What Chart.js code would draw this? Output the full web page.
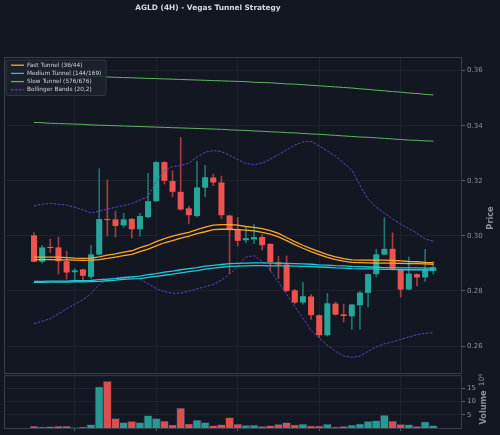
<!DOCTYPE html>
<html>
<head>
<meta charset="utf-8">
<script src="https://cdn.jsdelivr.net/npm/chart.js@4.4.0/dist/chart.umd.min.js"></script>
<style>
html, body { margin: 0; padding: 0; background: #131722; }
#wrap { position: relative; width: 500px; height: 435px; overflow: hidden; }
canvas { position: absolute; left: 0; }
#priceChart { top: 0; }
#volumeChart { top: 370px; }
</style>
</head>
<body>
<div id="wrap">
  <canvas id="priceChart" width="500" height="435" style="width:500px;height:435px"></canvas>
  <canvas id="volumeChart" width="500" height="65" style="width:500px;height:65px"></canvas>
</div>
<script>
// AGLD 4H candles (50 bars)
var opens  = [0.3002,0.2906,0.2960,0.2958,0.2908,0.2868,0.2878,0.2851,0.2932,0.3061,0.3060,0.3038,0.3062,0.3024,0.3068,0.3126,0.3268,0.3199,0.3160,0.3100,0.3072,0.3175,0.3212,0.3194,0.3074,0.3021,0.2984,0.2987,0.2996,0.2971,0.2904,0.2896,0.2802,0.2758,0.2780,0.2712,0.2639,0.2754,0.2715,0.2708,0.2748,0.2793,0.2861,0.2932,0.2953,0.2879,0.2805,0.2861,0.2849,0.2873];
var highs  = [0.3012,0.2966,0.2988,0.2996,0.2944,0.2882,0.2879,0.2966,0.3244,0.3203,0.3090,0.3082,0.3063,0.3082,0.3227,0.3270,0.3270,0.3236,0.3358,0.3108,0.3272,0.3256,0.3224,0.3217,0.3076,0.3067,0.3033,0.3042,0.3005,0.2972,0.2926,0.2927,0.2806,0.2831,0.2787,0.2713,0.2791,0.2760,0.2752,0.2752,0.2799,0.2862,0.2951,0.3066,0.3011,0.2880,0.2923,0.2862,0.2951,0.2906];
var lows   = [0.2905,0.2902,0.2940,0.2861,0.2843,0.2833,0.2836,0.2845,0.2930,0.2999,0.2996,0.3031,0.2991,0.2999,0.3066,0.3124,0.3188,0.3142,0.3093,0.3045,0.3069,0.3142,0.3182,0.3062,0.2863,0.2963,0.2975,0.2972,0.2948,0.2873,0.2845,0.2798,0.2754,0.2752,0.2697,0.2631,0.2636,0.2712,0.2687,0.2661,0.2661,0.2742,0.2851,0.2931,0.2875,0.2778,0.2804,0.2818,0.2835,0.2861];
var closes = [0.2906,0.2958,0.2956,0.2908,0.2867,0.2875,0.2855,0.2933,0.3061,0.3057,0.3036,0.3060,0.3024,0.3072,0.3126,0.3268,0.3200,0.3160,0.3096,0.3075,0.3176,0.3213,0.3194,0.3075,0.3021,0.2982,0.2992,0.2996,0.2966,0.2904,0.2896,0.2800,0.2758,0.2781,0.2712,0.2639,0.2755,0.2714,0.2709,0.2751,0.2794,0.2861,0.2933,0.2953,0.2879,0.2805,0.2863,0.2849,0.2878,0.2886];
// volume in millions
var volumes = [0.7,0.3,0.5,0.7,0.7,0.1,0.4,1.3,15.5,17.6,3.6,2.1,2.5,2.1,4.7,3.6,2.6,1.2,7.5,1.6,3.0,2.1,0.9,1.3,3.9,1.5,1.0,1.1,0.6,0.9,1.4,2.1,1.2,1.5,0.8,0.8,1.5,0.4,0.6,1.1,1.6,2.5,2.8,4.8,2.6,1.4,1.3,0.6,2.3,0.9];

// Vegas tunnels
var fast36  = [0.2923,0.2923,0.2923,0.2923,0.2921,0.2919,0.2918,0.2919,0.2924,0.2930,0.2935,0.2941,0.2946,0.2957,0.2966,0.2979,0.2990,0.2999,0.3006,0.3013,0.3023,0.3032,0.3039,0.3041,0.3041,0.3039,0.3034,0.3031,0.3026,0.3019,0.3009,0.2994,0.2979,0.2966,0.2954,0.2943,0.2932,0.2924,0.2917,0.2913,0.2912,0.2912,0.2912,0.2912,0.2911,0.2909,0.2907,0.2906,0.2904,0.2903];
var fast44  = [0.2914,0.2914,0.2914,0.2913,0.2913,0.2912,0.2911,0.2912,0.2914,0.2918,0.2923,0.2928,0.2933,0.2943,0.2952,0.2964,0.2975,0.2983,0.2992,0.2999,0.3008,0.3015,0.3023,0.3024,0.3024,0.3023,0.3021,0.3018,0.3013,0.3006,0.2996,0.2983,0.2968,0.2955,0.2943,0.2932,0.2922,0.2914,0.2908,0.2904,0.2903,0.2902,0.2901,0.2901,0.2901,0.2900,0.2899,0.2899,0.2898,0.2897];
var med144  = [0.2835,0.2835,0.2836,0.2836,0.2836,0.2837,0.2837,0.2838,0.2841,0.2843,0.2845,0.2848,0.2851,0.2854,0.2859,0.2863,0.2868,0.2872,0.2877,0.2881,0.2885,0.2890,0.2893,0.2896,0.2899,0.2900,0.2901,0.2902,0.2902,0.2901,0.2901,0.2900,0.2899,0.2898,0.2897,0.2895,0.2894,0.2892,0.2891,0.2889,0.2888,0.2887,0.2886,0.2885,0.2885,0.2884,0.2884,0.2884,0.2883,0.2883];
var med169  = [0.2831,0.2831,0.2832,0.2832,0.2832,0.2833,0.2833,0.2834,0.2835,0.2837,0.2839,0.2842,0.2844,0.2845,0.2849,0.2853,0.2857,0.2861,0.2866,0.2870,0.2874,0.2879,0.2883,0.2886,0.2889,0.2890,0.2891,0.2892,0.2892,0.2891,0.2891,0.2891,0.2890,0.2889,0.2888,0.2887,0.2886,0.2884,0.2883,0.2881,0.2880,0.2880,0.2879,0.2878,0.2878,0.2877,0.2877,0.2877,0.2876,0.2876];
var slow576 = [0.3590,0.3588,0.3587,0.3585,0.3584,0.3583,0.3581,0.3580,0.3579,0.3577,0.3576,0.3575,0.3574,0.3573,0.3572,0.3571,0.3570,0.3569,0.3568,0.3567,0.3566,0.3565,0.3564,0.3563,0.3562,0.3561,0.3560,0.3558,0.3557,0.3556,0.3554,0.3552,0.3551,0.3549,0.3547,0.3545,0.3543,0.3541,0.3539,0.3537,0.3534,0.3532,0.3529,0.3527,0.3524,0.3522,0.3519,0.3517,0.3514,0.3512];
var slow676 = [0.3412,0.3411,0.3409,0.3408,0.3407,0.3406,0.3405,0.3403,0.3402,0.3401,0.3400,0.3399,0.3398,0.3397,0.3396,0.3395,0.3394,0.3393,0.3392,0.3391,0.3390,0.3389,0.3388,0.3387,0.3385,0.3384,0.3383,0.3381,0.3380,0.3378,0.3377,0.3375,0.3374,0.3372,0.3370,0.3369,0.3367,0.3365,0.3363,0.3361,0.3359,0.3358,0.3356,0.3354,0.3352,0.3350,0.3348,0.3347,0.3345,0.3344];

// Bollinger Bands (20,2)
var bbUpper = [0.3109,0.3115,0.3118,0.3115,0.3112,0.3104,0.3095,0.3083,0.3090,0.3097,0.3104,0.3110,0.3117,0.3130,0.3143,0.3199,0.3239,0.3252,0.3255,0.3264,0.3286,0.3304,0.3310,0.3306,0.3293,0.3277,0.3263,0.3259,0.3264,0.3279,0.3295,0.3313,0.3330,0.3341,0.3343,0.3326,0.3308,0.3290,0.3264,0.3239,0.3184,0.3133,0.3104,0.3083,0.3061,0.3043,0.3026,0.3010,0.2988,0.2981];
var bbLower = [0.2681,0.2690,0.2699,0.2717,0.2735,0.2752,0.2768,0.2790,0.2824,0.2841,0.2848,0.2851,0.2851,0.2843,0.2826,0.2808,0.2797,0.2792,0.2792,0.2799,0.2808,0.2815,0.2824,0.2839,0.2861,0.2890,0.2923,0.2928,0.2908,0.2875,0.2832,0.2788,0.2744,0.2701,0.2657,0.2628,0.2603,0.2581,0.2564,0.2559,0.2563,0.2581,0.2597,0.2608,0.2615,0.2624,0.2633,0.2641,0.2646,0.2648];

var priceTicks = [0.26, 0.28, 0.30, 0.32, 0.34, 0.36];
var volumeTicks = [5, 10, 15];

var legendLabels = ['Fast Tunnel (36/44)', 'Medium Tunnel (144/169)', 'Slow Tunnel (576/676)', 'Bollinger Bands (20,2)'];

var UP = '#26a69a', DOWN = '#ef5350';
var ORANGE = '#ffa726', CYAN = '#26c6da', GREEN = '#5cb860', PURPLE = '#6441c4';
var GRID = '#1d222d', TICKMARK = '#5d616c', LABEL = '#8b8f99', BORDER = '#3a3e4a';
var X_MIN = -3.56, X_MAX = 52.4;

Chart.defaults.font.family = 'DejaVu Sans';

var isUp = opens.map(function (o, i) { return closes[i] >= o; });

function pts(arr) {
    return arr.map(function (v, i) { return {x: i, y: v}; });
}

function lineSet(label, data, color, width, dash) {
    return {
        type: 'line',
        label: label,
        data: pts(data),
        borderColor: color,
        borderWidth: width,
        borderDash: dash || [],
        pointRadius: 0,
        tension: 0,
        fill: false,
        order: 0
    };
}

var panelBorder = {
    id: 'panelBorder',
    afterDraw: function (chart) {
        var ca = chart.chartArea, ctx = chart.ctx;
        ctx.save();
        ctx.strokeStyle = BORDER;
        ctx.lineWidth = 1;
        ctx.strokeRect(ca.left - 0.5, ca.top - 0.5, ca.right - ca.left + 1, ca.bottom - ca.top + 1);
        ctx.restore();
    }
};

var decorations = {
    id: 'decorations',
    afterDraw: function (chart) {
        var ca = chart.chartArea, ctx = chart.ctx;
        ctx.save();
        // title
        ctx.fillStyle = '#d6d8de';
        ctx.font = 'bold 7.4px "DejaVu Sans"';
        ctx.textAlign = 'center';
        ctx.textBaseline = 'middle';
        ctx.fillText('AGLD (4H) - Vegas Tunnel Strategy', 208, 8.5);

        // axis labels
        ctx.fillStyle = '#8f939c';
        ctx.font = 'bold 8.2px "DejaVu Sans"';
        ctx.save();
        ctx.translate(490.5, 218);
        ctx.rotate(-Math.PI / 2);
        ctx.fillText('Price', 0, 0);
        ctx.restore();
        ctx.save();
        ctx.translate(483.5, 407.5);
        ctx.rotate(-Math.PI / 2);
        ctx.fillText('Volume', 0, 0);
        ctx.restore();
        ctx.save();
        ctx.font = '7.4px "DejaVu Sans"';
        ctx.translate(482.5, 380);
        ctx.rotate(-Math.PI / 2);
        ctx.fillText('10\u2076', 0, 0);
        ctx.restore();

        // legend box
        var x0 = ca.left + 1, y0 = ca.top + 2, w = 100, h = 35.5;
        ctx.fillStyle = 'rgba(30,34,45,0.85)';
        ctx.strokeStyle = '#3a3e4a';
        ctx.lineWidth = 0.8;
        ctx.beginPath();
        ctx.roundRect(x0, y0, w, h, 2);
        ctx.fill();
        ctx.stroke();
        var colors = [ORANGE, CYAN, GREEN, PURPLE];
        ctx.font = '5.8px "DejaVu Sans"';
        ctx.textAlign = 'left';
        ctx.textBaseline = 'middle';
        legendLabels.forEach(function (txt, k) {
            var y = y0 + 5.2 + 8.2 * k;
            ctx.strokeStyle = colors[k];
            ctx.lineWidth = 1.3;
            ctx.setLineDash(k === 3 ? [2.5, 1.5] : []);
            ctx.beginPath();
            ctx.moveTo(x0 + 5, y);
            ctx.lineTo(x0 + 18, y);
            ctx.stroke();
            ctx.setLineDash([]);
            ctx.fillStyle = '#cfd2d9';
            ctx.fillText(txt, x0 + 21, y);
        });
        ctx.restore();
    }
};

function xScale(showTicks) {
    return {
        type: 'linear',
        min: X_MIN,
        max: X_MAX,
        offset: false,
        ticks: { display: false, stepSize: 10, includeBounds: false },
        grid: { color: GRID, tickColor: TICKMARK, drawTicks: showTicks, tickLength: 3 },
        border: { display: false },
        afterFit: function (s) { s.height = showTicks ? 3 : 0; }
    };
}

function yScale(min, max, tickValues, fmt) {
    return {
        type: 'linear',
        position: 'right',
        min: min,
        max: max,
        afterBuildTicks: function (s) {
            s.ticks = tickValues.map(function (v) { return {value: v}; });
        },
        ticks: {
            color: LABEL,
            font: { size: 7 },
            padding: 2,
            callback: fmt
        },
        grid: { color: GRID, tickColor: TICKMARK, tickLength: 4 },
        border: { display: false },
        afterFit: function (s) { s.width = 39; }
    };
}

var priceCtx = document.getElementById('priceChart').getContext('2d');
new Chart(priceCtx, {
    type: 'line',
    data: {
        datasets: [
            lineSet('Fast Tunnel (36/44)', fast36, ORANGE, 1.3),
            lineSet('Fast 44', fast44, ORANGE, 1.3),
            lineSet('Medium Tunnel (144/169)', med144, CYAN, 1.3),
            lineSet('Medium 169', med169, CYAN, 1.3),
            lineSet('Slow Tunnel (576/676)', slow576, GREEN, 1),
            lineSet('Slow 676', slow676, GREEN, 1),
            lineSet('Bollinger Bands (20,2)', bbUpper, PURPLE, 1, [2.5, 1.5]),
            lineSet('BB lower', bbLower, PURPLE, 1, [2.5, 1.5]),
            {
                type: 'bar',
                label: 'body',
                data: opens.map(function (o, i) { return {x: i, y: [o, closes[i]]}; }),
                backgroundColor: isUp.map(function (u) { return u ? UP : DOWN; }),
                barPercentage: 0.74,
                categoryPercentage: 1,
                grouped: false,
                minBarLength: 1,
                order: 1
            },
            {
                type: 'bar',
                label: 'wick',
                data: lows.map(function (l, i) { return {x: i, y: [l, highs[i]]}; }),
                backgroundColor: isUp.map(function (u) { return u ? 'rgba(38,166,154,0.65)' : 'rgba(239,83,80,0.65)'; }),
                barThickness: 1,
                grouped: false,
                order: 2
            }
        ]
    },
    options: {
        responsive: false,
        animation: false,
        layout: { padding: { left: 5, top: 58, right: 0, bottom: 62 } },
        scales: {
            x: xScale(false),
            y: yScale(0.2502, 0.3646, priceTicks, function (v) { return v.toFixed(2); })
        },
        plugins: {
            legend: { display: false },
            tooltip: { enabled: false }
        }
    },
    plugins: [panelBorder, decorations]
});

var volumeCtx = document.getElementById('volumeChart').getContext('2d');
new Chart(volumeCtx, {
    type: 'bar',
    data: {
        datasets: [{
            label: 'Volume',
            data: pts(volumes),
            backgroundColor: isUp.map(function (u) { return u ? 'rgba(38,166,154,0.92)' : 'rgba(239,83,80,0.92)'; }),
            borderColor: '#1f3350',
            borderWidth: 0.8,
            barPercentage: 1,
            categoryPercentage: 1,
            grouped: false
        }]
    },
    options: {
        responsive: false,
        animation: false,
        layout: { padding: { left: 5, top: 4, right: 0, bottom: 4 } },
        scales: {
            x: xScale(true),
            y: yScale(0, 19.5, volumeTicks, function (v) { return v; })
        },
        plugins: {
            legend: { display: false },
            tooltip: { enabled: false }
        }
    },
    plugins: [panelBorder]
});
</script>
</body>
</html>
